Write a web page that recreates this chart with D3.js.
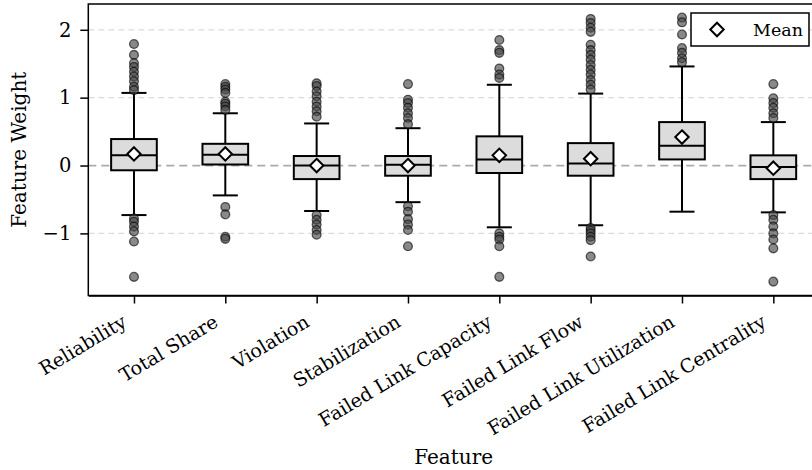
<!DOCTYPE html>
<html>
<head>
<meta charset="utf-8">
<script src="https://cdn.jsdelivr.net/npm/d3@7"></script>
<style>
  body { margin: 0; background: #fff; }
  svg { display: block; font-family: "DejaVu Serif", serif; }
  svg text { fill: #000; }
</style>
</head>
<body>
<div id="chart"></div>
<script>
const categories = ["Reliability", "Total Share", "Violation", "Stabilization",
  "Failed Link Capacity", "Failed Link Flow", "Failed Link Utilization", "Failed Link Centrality"];
const q1 = [-0.07, 0.015, -0.20, -0.15, -0.11, -0.15, 0.09, -0.20];
const medians = [0.15, 0.16, 0.0, 0.01, 0.09, 0.03, 0.29, -0.02];
const q3 = [0.39, 0.32, 0.14, 0.14, 0.43, 0.33, 0.64, 0.15];
const whiskerLow = [-0.73, -0.44, -0.67, -0.54, -0.91, -0.88, -0.68, -0.69];
const whiskerHigh = [1.07, 0.77, 0.62, 0.55, 1.19, 1.06, 1.46, 0.64];
const means = [0.17, 0.17, 0.0, 0.0, 0.15, 0.10, 0.42, -0.04];
const outliers = [
  [1.79, 1.63, 1.51, 1.45, 1.38, 1.31, 1.24, 1.16, 1.11, -0.78, -0.83, -0.90, -0.97, -1.12, -1.64],
  [1.20, 1.16, 1.12, 1.07, 0.94, 0.91, 0.87, 0.82, -0.61, -0.72, -1.05, -1.08],
  [1.21, 1.17, 1.09, 1.02, 0.94, 0.87, 0.80, 0.72, -0.73, -0.80, -0.87, -0.95, -1.02],
  [1.20, 0.97, 0.92, 0.85, 0.77, 0.70, 0.61, -0.60, -0.68, -0.79, -0.87, -0.95, -1.19],
  [1.85, 1.70, 1.66, 1.43, 1.34, 1.29, -1.00, -1.05, -1.09, -1.19, -1.64],
  [2.16, 2.10, 2.03, 1.97, 1.78, 1.70, 1.63, 1.56, 1.48, 1.41, 1.34, 1.26, 1.19, 1.12, -0.92, -0.96, -1.00, -1.05, -1.10, -1.34],
  [2.18, 2.11, 1.93, 1.73, 1.66, 1.58, 1.52],
  [1.20, 0.99, 0.92, 0.85, 0.77, 0.70, -0.73, -0.80, -0.90, -1.00, -1.09, -1.22, -1.71]
];
const yTicks = [-1, 0, 1, 2];
const gridTicks = [-1, 1, 2];

const width = 812;
const height = 470;
const plotLeft = 88.3, plotRight = 819, plotTop = 4, plotBottom = 295.5;

const svg = d3.select("#chart").append("svg")
  .attr("width", width)
  .attr("height", height);

const xScale = d3.scalePoint()
  .domain(categories)
  .range([plotLeft, plotRight])
  .padding(0.5);
const step = xScale.step();

const yScale = d3.scaleLinear()
  .domain([-1.915, 2.38])
  .range([plotBottom, plotTop]);

// grid
svg.append("g").selectAll("line")
  .data(gridTicks)
  .join("line")
  .attr("x1", plotLeft).attr("x2", plotRight)
  .attr("y1", d => yScale(d)).attr("y2", d => yScale(d))
  .attr("stroke", "#dcdcdc")
  .attr("stroke-width", 1.2)
  .attr("stroke-dasharray", "6,4");

svg.append("line")
  .attr("x1", plotLeft).attr("x2", plotRight)
  .attr("y1", yScale(0)).attr("y2", yScale(0))
  .attr("stroke", "#ababab")
  .attr("stroke-width", 1.8)
  .attr("stroke-dasharray", "8,5");

const boxes = svg.append("g").selectAll("g")
  .data(categories)
  .join("g")
  .attr("transform", d => `translate(${xScale(d)},0)`);

const capHalf = step * 0.137;
const boxHalf = step * 0.25;

// whiskers
boxes.append("line")
  .attr("y1", (d, i) => yScale(whiskerLow[i]))
  .attr("y2", (d, i) => yScale(q1[i]))
  .attr("stroke", "#000").attr("stroke-width", 2);
boxes.append("line")
  .attr("y1", (d, i) => yScale(q3[i]))
  .attr("y2", (d, i) => yScale(whiskerHigh[i]))
  .attr("stroke", "#000").attr("stroke-width", 2);
boxes.append("line")
  .attr("x1", -capHalf).attr("x2", capHalf)
  .attr("y1", (d, i) => yScale(whiskerLow[i]))
  .attr("y2", (d, i) => yScale(whiskerLow[i]))
  .attr("stroke", "#000").attr("stroke-width", 2);
boxes.append("line")
  .attr("x1", -capHalf).attr("x2", capHalf)
  .attr("y1", (d, i) => yScale(whiskerHigh[i]))
  .attr("y2", (d, i) => yScale(whiskerHigh[i]))
  .attr("stroke", "#000").attr("stroke-width", 2);

// boxes
boxes.append("rect")
  .attr("x", -boxHalf)
  .attr("width", boxHalf * 2)
  .attr("y", (d, i) => yScale(q3[i]))
  .attr("height", (d, i) => yScale(q1[i]) - yScale(q3[i]))
  .attr("fill", "#dcdcdc")
  .attr("stroke", "#000")
  .attr("stroke-width", 2);

boxes.append("line")
  .attr("x1", -boxHalf).attr("x2", boxHalf)
  .attr("y1", (d, i) => yScale(medians[i]))
  .attr("y2", (d, i) => yScale(medians[i]))
  .attr("stroke", "#000").attr("stroke-width", 2);

// outliers
boxes.selectAll("circle")
  .data((d, i) => outliers[i])
  .join("circle")
  .attr("cx", 0)
  .attr("cy", d => yScale(d))
  .attr("r", 4.4)
  .attr("fill", "#4a4a4a")
  .attr("fill-opacity", 0.65)
  .attr("stroke", "#000")
  .attr("stroke-opacity", 0.6)
  .attr("stroke-width", 1.3);

// means
const diamond = d3.symbol().type(d3.symbolDiamond2).size(115);
boxes.append("path")
  .attr("d", diamond)
  .attr("transform", (d, i) => `translate(0,${yScale(means[i])})`)
  .attr("fill", "#fff")
  .attr("stroke", "#000")
  .attr("stroke-width", 2);

// axes
const xAxis = d3.axisBottom(xScale).tickSize(8).tickSizeOuter(0).tickFormat("");
svg.append("g")
  .attr("transform", `translate(0,${plotBottom})`)
  .call(xAxis)
  .call(g => g.select(".domain").attr("stroke-width", 1.5))
  .call(g => g.selectAll(".tick line").attr("stroke-width", 1.5));

svg.append("g").selectAll("text")
  .data(categories)
  .join("text")
  .attr("transform", d => `translate(${xScale(d) - 6},${plotBottom + 30}) rotate(-31)`)
  .attr("text-anchor", "end")
  .style("font-size", "19px")
  .text(d => d);

const yAxis = d3.axisLeft(yScale).tickValues(yTicks).tickSize(8).tickSizeOuter(0).tickPadding(9)
  .tickFormat(d => d < 0 ? "\u2212" + Math.abs(d) : d);
svg.append("g")
  .attr("transform", `translate(${plotLeft},0)`)
  .call(yAxis)
  .call(g => g.select(".domain").remove())
  .call(g => g.selectAll(".tick line").attr("stroke-width", 1.5))
  .call(g => g.selectAll("text").style("font-size", "19.5px").style("font-family", "DejaVu Serif"));

// spines
svg.append("rect")
  .attr("x", plotLeft).attr("y", plotTop)
  .attr("width", plotRight - plotLeft).attr("height", plotBottom - plotTop)
  .attr("fill", "none")
  .attr("stroke", "#000")
  .attr("stroke-width", 1.5);

// labels
svg.append("text")
  .attr("transform", `translate(26,${(plotTop + plotBottom) / 2}) rotate(-90)`)
  .attr("text-anchor", "middle")
  .style("font-size", "20px")
  .text("Feature Weight");

svg.append("text")
  .attr("x", (plotLeft + plotRight) / 2)
  .attr("y", 464)
  .attr("text-anchor", "middle")
  .style("font-size", "20px")
  .text("Feature");

// legend
const legend = svg.append("g");
legend.append("rect")
  .attr("x", 691).attr("y", 13)
  .attr("width", 118).attr("height", 33)
  .attr("fill", "#fff")
  .attr("stroke", "#000")
  .attr("stroke-width", 1.5);
legend.append("path")
  .attr("d", diamond)
  .attr("transform", "translate(717,29.5)")
  .attr("fill", "#fff")
  .attr("stroke", "#000")
  .attr("stroke-width", 2);
legend.append("text")
  .attr("x", 753).attr("y", 36)
  .style("font-size", "17.5px")
  .text("Mean");
</script>
</body>
</html>
